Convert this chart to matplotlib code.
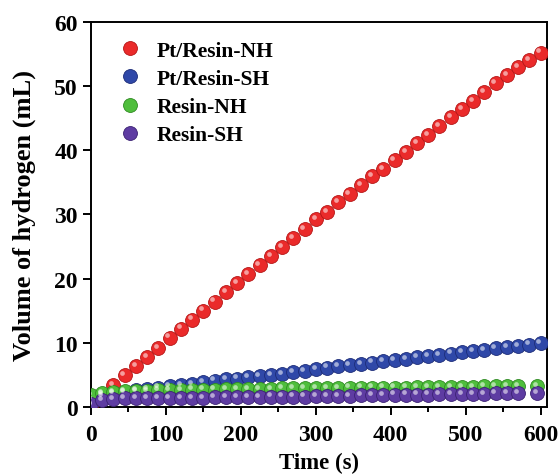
import matplotlib
matplotlib.use("Agg")
from matplotlib import pyplot as plt
from matplotlib.transforms import offset_copy
from matplotlib.ticker import MultipleLocator

plt.rcParams['font.family'] = ['Liberation Serif', 'DejaVu Serif']
plt.rcParams['font.weight'] = 'bold'

# time axis (s)
t_pt = list(range(0, 601, 15))
t_resin = list(range(0, 571, 15)) + [595]

pt_resin_nh = [0.3, 1.9, 3.4, 4.9, 6.3, 7.7, 9.2, 10.8, 12.2, 13.6, 15.0, 16.4, 17.9, 19.3,
               20.7, 22.1, 23.5, 24.9, 26.3, 27.7, 29.2, 30.4, 31.9, 33.2, 34.5, 36.0, 37.1,
               38.4, 39.7, 41.1, 42.3, 43.7, 45.1, 46.4, 47.7, 49.1, 50.4, 51.7, 52.9, 54.1, 55.2]
pt_resin_sh = [1.2, 1.7, 2.1, 2.3, 2.6, 2.8, 3.0, 3.2, 3.4, 3.6, 3.9, 4.1, 4.3, 4.4, 4.6,
               4.8, 5.0, 5.1, 5.4, 5.6, 5.9, 6.1, 6.3, 6.5, 6.7, 6.9, 7.1, 7.3, 7.5, 7.7,
               7.9, 8.1, 8.3, 8.5, 8.7, 8.9, 9.1, 9.3, 9.5, 9.7, 9.9]
resin_nh = [1.8, 2.1, 2.3, 2.4, 2.5, 2.5, 2.6, 2.6, 2.6, 2.7, 2.7, 2.7, 2.8, 2.8, 2.8, 2.8,
            2.8, 2.9, 2.9, 2.9, 2.9, 2.9, 2.9, 3.0, 3.0, 3.0, 3.0, 3.0, 3.0, 3.1, 3.1, 3.1,
            3.1, 3.1, 3.1, 3.2, 3.2, 3.2, 3.2, 3.2]
resin_sh = [0.4, 1.0, 1.2, 1.3, 1.3, 1.3, 1.4, 1.4, 1.4, 1.4, 1.4, 1.5, 1.5, 1.5, 1.5, 1.5,
            1.6, 1.6, 1.6, 1.6, 1.7, 1.7, 1.7, 1.7, 1.8, 1.8, 1.8, 1.9, 1.9, 1.9, 1.9, 2.0,
            2.0, 2.0, 2.0, 2.0, 2.1, 2.1, 2.1, 2.1]

series = [
    ('Pt/Resin-NH', t_pt, pt_resin_nh, '#ea2a2a', '#b51616'),
    ('Pt/Resin-SH', t_pt, pt_resin_sh, '#2f48a8', '#1c2c78'),
    ('Resin-NH', t_resin, resin_nh, '#4fbe3c', '#2f8a22'),
    ('Resin-SH', t_resin, resin_sh, '#5e3ca2', '#3b2273'),
]

fig = plt.figure(figsize=(5.58, 4.77), dpi=100)
ax = fig.add_axes([0.163, 0.145, 0.818, 0.807])

# highlight a bit up-left of each ball
hl = offset_copy(ax.transData, fig=fig, x=-2.2, y=2.2, units='dots')

for name, t, v, c, ec in series:
    ax.plot(t, v, 'o', ms=10.0, color=c, mec=ec, mew=0.6, label=name, zorder=3)
    ax.plot(t, v, 'o', ms=3.4, color='white', mec='none', alpha=0.55,
            transform=hl, zorder=4)

ax.set_xlim(0, 609)
ax.set_ylim(0, 60)
ax.xaxis.set_major_locator(MultipleLocator(100))
ax.xaxis.set_minor_locator(MultipleLocator(50))
ax.yaxis.set_major_locator(MultipleLocator(10))

ax.tick_params(which='major', direction='out', length=6, width=1.4, labelsize=17,
               top=False, right=False)
ax.tick_params(axis='x', which='major', pad=6)
ax.tick_params(which='minor', direction='out', length=3.5, width=1.4, top=False, right=False)
for s in ax.spines.values():
    s.set_linewidth(1.4)

ax.set_xlabel('Time (s)', fontsize=16.5, fontweight='bold', labelpad=5)
ax.set_ylabel('Volume of hydrogen (mL)', fontsize=19, fontweight='bold', labelpad=13)

leg = ax.legend(loc='upper left', bbox_to_anchor=(0.03, 0.985), frameon=False,
                fontsize=15.5, handletextpad=0.6, labelspacing=0.38, borderaxespad=0.2,
                handlelength=1.2)

fig.savefig('out.png', dpi=100)
